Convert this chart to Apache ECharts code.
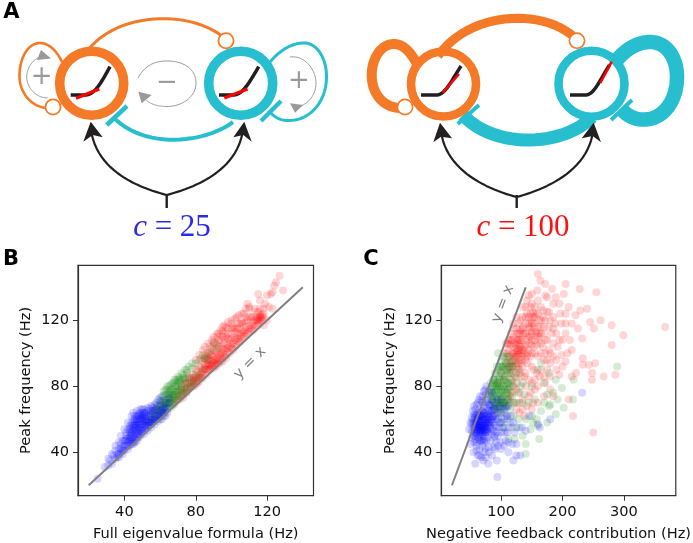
<!DOCTYPE html>
<html><head><meta charset="utf-8">
<style>html,body{margin:0;padding:0;background:#fff}#c{width:693px;height:543px}</style>
<script src="https://cdn.jsdelivr.net/npm/echarts@6/dist/echarts.min.js"></script>
</head><body><div id="c"></div>
<script>
const ticksB=[40,80,120];
const ticksCx=[100,200,300];
const ticksY=[40,80,120];
const identityLine=[[20,20],[140,140]];

const bBlue=[[25,24],[29,31],[31,32],[32,35],[33,33],[34,38],[35,36],[35,41],[36,39],[37,37],[37,42],[38,40],[38,45],[39,43],[39,39],[40,41],[40,47],[41,44],[41,50],[42,42],[42,46],[43,49],[43,52],[43,44],[44,47],[44,54],[45,45],[45,50],[45,57],[46,48],[46,53],[46,59],[47,47],[47,51],[47,56],[48,49],[48,54],[48,60],[49,50],[49,57],[49,62],[50,52],[50,55],[50,59],[50,64],[51,51],[51,57],[51,61],[52,54],[52,60],[52,64],[53,53],[53,58],[53,62],[54,56],[54,60],[55,55],[55,58],[55,63],[56,60],[56,65],[57,57],[57,62],[58,60],[58,66],[59,59],[59,64],[60,62],[60,68],[61,60],[61,66],[62,64],[63,70],[63,62],[64,67],[65,73],[44,51],[46,56],[48,57],[49,53],[47,53],[45,48],[42,48],[40,44],[44,49],[50,57],[52,58],[54,63],[51,54],[53,56],[47,58],[48,62],[49,60],[50,61],[46,51],[45,53],[44,45],[43,47],[41,47],[39,41],[38,42],[37,39],[36,37],[42,44],[46,46],[48,52],[49,55],[51,59],[52,56],[54,58],[55,60],[56,58],[57,60],[50,53],[48,51],[47,49],[45,46],[44,52],[43,50],[46,55],[47,60],[48,55],[50,62],[51,63],[52,62],[38,50],[40,54],[42,58],[44,62],[45,64],[47,65],[49,66],[51,66],[53,67],[55,68],[57,69],[59,72],[61,74],[60,71],[58,70],[56,67],[54,66],[50,66],[48,63],[46,62],[43,56],[41,52],[39,47],[37,46],[42,54],[44,58],[46,60],[44,56],[45,60],[47,62],[49,64],[51,64],[53,65],[55,65],[48,58],[50,60],[52,59],[46,57],[45,55],[43,54],[41,48],[35,44],[33,39],[31,36],[58,62],[60,65],[62,67],[63,66],[64,64],[65,70],[59,61],[61,64],[62,62],[57,65]];
const bGreen=[[52,56],[54,62],[55,58],[56,64],[57,60],[58,66],[59,62],[60,69],[60,63],[61,66],[62,71],[62,64],[63,68],[63,75],[64,66],[64,72],[65,70],[65,77],[66,67],[66,74],[67,71],[67,78],[68,69],[68,75],[68,80],[69,72],[69,77],[70,74],[70,80],[71,72],[71,83],[72,76],[72,79],[73,75],[73,85],[74,78],[74,82],[75,77],[75,88],[76,80],[76,85],[77,79],[78,83],[78,91],[79,82],[80,87],[80,94],[82,86],[84,90],[85,97],[87,96],[88,101],[90,106],[92,103],[66,72],[64,75],[62,69],[70,77],[68,73],[66,70],[65,73],[67,75],[69,80],[63,72],[61,69],[60,66],[64,69],[68,77],[70,82],[72,84],[62,74],[64,78],[66,81],[68,84],[70,86],[72,88],[74,90],[76,92],[78,94],[62,77],[65,80],[67,82],[69,84],[71,85],[73,87],[75,90],[60,73],[58,68],[57,66],[64,80],[66,78],[68,82],[70,84],[63,78],[65,75],[67,73],[69,75],[71,78],[72,81],[74,85],[82,96],[84,99],[54,58],[56,59],[58,62],[59,65],[60,60],[61,63],[62,67],[63,65],[64,70],[65,68],[66,76],[67,69],[55,61],[57,63],[59,68],[61,71],[63,70]];
const bRed=[[68,70],[70,72],[72,74],[72,78],[74,76],[74,81],[75,79],[76,78],[77,84],[78,80],[78,87],[79,83],[80,81],[80,86],[81,89],[82,83],[82,87],[83,91],[84,85],[84,89],[85,93],[85,97],[86,87],[86,90],[87,94],[87,100],[88,90],[88,96],[89,92],[89,103],[90,91],[90,98],[90,107],[91,94],[91,101],[92,93],[92,97],[92,110],[93,96],[93,104],[94,95],[94,99],[94,108],[95,97],[95,103],[95,113],[96,98],[96,106],[97,99],[97,110],[98,101],[98,105],[98,115],[99,100],[99,108],[100,103],[100,112],[100,118],[101,102],[101,106],[102,104],[102,110],[103,105],[103,115],[103,122],[104,107],[104,112],[105,107],[105,118],[106,109],[106,114],[107,110],[107,124],[108,111],[108,116],[109,112],[109,120],[110,113],[110,117],[110,128],[111,115],[111,122],[112,114],[112,119],[113,116],[113,120],[113,127],[114,117],[114,122],[115,118],[115,121],[115,125],[116,119],[116,122],[116,132],[117,120],[117,122],[118,124],[118,117],[119,130],[120,135],[120,120],[121,128],[122,136],[123,127],[124,141],[125,143],[127,147],[129,138],[123,137],[109,130],[115,136],[110,127],[116,121],[115,120],[117,123],[116,123],[114,120],[112,117],[118,122],[88,93],[89,95],[90,94],[91,96],[92,95],[90,96],[94,100],[96,102],[98,103],[100,106],[102,108],[104,109],[99,104],[97,103],[95,100],[93,99],[92,100],[88,91],[87,92],[86,93],[84,87],[82,85],[80,84],[78,82],[76,82],[75,76],[103,109],[105,111],[107,113],[106,119],[108,122],[101,116],[97,116],[95,116],[93,112],[80,96],[82,99],[84,102],[85,104],[87,106],[89,108],[90,110],[92,112],[94,114],[96,117],[98,119],[100,120],[102,121],[104,123],[106,124],[108,127],[83,97],[86,100],[88,104],[91,106],[93,108],[95,110],[96,112],[98,112],[100,115],[102,115],[104,118],[106,118],[108,119],[110,122],[86,96],[88,99],[90,102],[92,105],[94,104],[96,108],[98,109],[100,109],[102,113],[104,115],[106,112],[108,114],[110,115],[112,122],[114,125],[116,127],[118,127],[85,91],[87,90],[89,93],[91,92],[93,94],[95,95],[97,97],[70,76],[72,80],[74,84],[76,86],[78,85],[80,90],[82,92],[84,95],[86,98],[73,77],[75,82],[77,80],[79,85],[81,85],[83,88],[85,90],[87,97],[89,99],[71,74],[69,71],[73,73],[79,80],[81,82],[83,85]];

const cBlue=[[94,25],[58,33],[71,35],[79,33],[93,35],[120,35],[125,38],[131,38],[62,38],[68,37],[73,40],[85,38],[100,42],[112,40],[125,45],[118,45],[112,46],[107,47],[55,40],[60,41],[65,42],[75,42],[80,43],[88,43],[92,46],[99,46],[65,47],[70,47],[76,47],[83,47],[89,49],[95,50],[101,52],[50,45],[52,49],[56,46],[60,46],[110,52],[122,52],[125,55],[134,55],[140,53],[146,62],[160,57],[163,55],[180,60],[232,76],[48,54],[52,53],[55,52],[56,55],[57,50],[58,53],[59,57],[60,51],[60,55],[61,59],[62,53],[62,56],[63,49],[63,60],[64,53],[64,56],[65,58],[65,51],[66,54],[66,61],[67,56],[67,50],[68,53],[68,59],[69,55],[69,62],[70,52],[70,57],[71,54],[71,60],[72,56],[72,50],[73,53],[73,62],[74,58],[74,55],[75,52],[75,64],[76,57],[76,60],[77,54],[77,67],[78,60],[78,56],[79,63],[80,58],[80,52],[81,65],[82,62],[82,55],[83,69],[84,60],[85,65],[85,54],[86,71],[87,62],[88,58],[89,67],[90,62],[90,50],[92,55],[93,72],[95,60],[95,67],[98,58],[100,64],[100,72],[103,55],[105,60],[108,67],[110,62],[115,58],[55,60],[56,63],[58,62],[60,60],[60,63],[62,64],[62,61],[65,62],[65,66],[68,65],[70,65],[70,70],[72,68],[75,70],[75,75],[78,72],[80,69],[80,77],[85,76],[68,56],[66,52],[64,59],[63,55],[67,53],[70,55],[72,53],[74,52],[61,54],[59,52],[57,54],[69,51],[71,58],[73,56],[76,54],[78,53],[80,61],[82,58],[58,58],[57,61],[65,55],[66,57],[68,62],[71,63],[50,58],[52,61],[54,65],[56,68],[58,66],[60,69],[62,70],[64,72],[66,74],[68,71],[70,74],[72,77],[74,78],[76,80],[60,44],[65,38],[70,44],[75,37],[80,40],[90,42],[95,44],[105,44],[72,46],[78,49],[84,51],[88,53],[93,52],[97,55],[102,58],[106,52],[112,55],[116,62],[120,58],[85,58],[90,56],[94,64],[98,68],[104,66],[108,62],[112,68],[86,62],[78,65],[82,68],[74,60],[72,64],[88,66],[92,60],[64,48],[68,47],[72,48],[55,50],[58,48],[52,57],[54,58],[56,57],[60,57],[62,58],[64,62],[66,63],[70,60],[73,60],[75,58],[77,62],[79,58],[81,56],[83,63],[85,60]];
const cGreen=[[289,92],[217,72],[202,67],[189,63],[180,69],[140,45],[140,39],[162,48],[218,84],[189,84],[199,79],[178,68],[175,58],[160,56],[158,60],[150,62],[140,60],[128,60],[122,48],[112,48],[118,55],[105,55],[170,82],[178,88],[165,94],[160,90],[150,80],[155,72],[145,70],[138,75],[132,80],[125,70],[120,62],[110,60],[100,58],[85,80],[82,76],[80,72],[85,72],[88,76],[90,80],[90,70],[92,66],[95,62],[95,72],[95,78],[95,84],[96,90],[97,68],[98,74],[100,66],[100,72],[100,78],[100,82],[100,88],[102,92],[102,98],[103,70],[105,64],[105,74],[105,80],[106,86],[107,90],[108,68],[108,76],[110,72],[110,82],[110,88],[112,78],[112,92],[115,66],[115,84],[115,94],[118,74],[118,88],[120,80],[120,96],[122,70],[125,85],[125,92],[128,76],[130,88],[135,82],[135,70],[88,70],[92,74],[93,80],[98,80],[103,76],[88,84],[92,88],[97,86],[103,86],[108,84],[113,88],[115,76],[110,94],[105,92],[100,95],[95,100],[88,74],[86,68],[93,70],[90,76],[83,74],[96,76],[99,70],[102,74],[106,70],[104,68],[85,76],[87,80],[88,82],[90,84],[92,78],[94,82],[96,80],[98,84],[100,76],[102,80],[104,84],[106,78],[108,80],[110,76],[112,82],[114,80],[116,82],[92,68],[94,72],[96,70],[98,64],[100,70],[102,68],[105,70],[108,72],[110,68],[112,72],[114,70],[90,66],[88,66],[86,72],[84,78],[83,82],[87,84],[90,88],[93,92],[97,92],[100,92],[103,90],[107,94],[110,98],[112,98],[105,98],[115,90],[118,92],[130,55],[135,50],[148,54],[152,58],[165,65],[170,70],[175,75],[185,76],[192,72]];
const cRed=[[367,116],[299,111],[280,117],[280,105],[262,120],[245,119],[251,115],[232,109],[267,86],[286,87],[248,84],[248,88],[253,94],[243,93],[233,93],[233,97],[250,52],[217,62],[160,148],[164,144],[205,142],[228,139],[255,137],[172,142],[159,138],[183,139],[202,136],[189,134],[172,135],[240,127],[229,126],[221,123],[205,124],[196,124],[185,122],[180,120],[215,118],[225,115],[205,112],[195,108],[185,106],[215,102],[208,100],[198,99],[190,96],[180,94],[222,88],[215,86],[195,87],[180,78],[170,74],[185,74],[210,72],[160,70],[150,66],[130,64],[150,130],[145,135],[140,128],[155,128],[165,128],[175,125],[135,122],[140,118],[145,122],[150,118],[155,122],[160,116],[165,120],[170,116],[140,112],[145,110],[150,113],[155,108],[160,110],[165,106],[170,112],[175,108],[120,110],[125,108],[130,112],[135,108],[140,105],[145,102],[150,105],[155,100],[160,98],[165,100],[170,96],[115,105],[118,100],[120,104],[123,100],[125,103],[128,106],[130,100],[133,104],[135,98],[138,100],[140,96],[143,94],[148,98],[150,92],[153,90],[158,88],[163,86],[108,106],[112,102],[115,98],[118,95],[120,92],[123,96],[125,88],[128,94],[130,90],[133,86],[135,92],[138,86],[140,88],[145,84],[150,82],[155,78],[160,80],[170,86],[105,100],[108,94],[110,90],[115,88],[118,84],[120,80],[125,78],[130,76],[135,72],[140,80],[145,74],[120,70],[125,66],[115,74],[100,88],[95,82],[150,112],[147,115],[153,116],[157,113],[142,108],[126,101],[128,99],[130,104],[132,102],[124,105],[122,98],[134,96],[150,120],[154,118],[148,124],[146,116],[158,105],[162,112],[143,100],[136,102],[128,108],[118,108],[175,134],[185,130],[195,130],[210,128],[172,100],[182,112],[198,118],[212,108],[112,108],[116,112],[120,115],[125,115],[128,118],[132,120],[136,116],[138,112],[142,124],[148,128],[152,125],[156,124],[160,124],[162,120],[165,116],[168,122],[172,120],[178,116],[130,96],[132,94],[128,90],[126,82],[122,86],[118,92],[114,92],[112,96],[110,100],[112,106],[116,108],[120,100],[124,94],[128,102],[132,108],[136,112],[130,108],[126,112],[122,106],[134,100],[138,104],[142,98],[146,106],[150,100],[154,104],[158,112],[162,108],[150,108],[148,110],[152,122],[145,118],[140,122],[135,115],[128,112],[132,114],[120,118],[110,106],[125,98],[118,76],[110,78],[105,84],[112,72],[135,66],[142,68],[148,76],[155,84],[165,90],[175,90],[180,86],[172,82],[130,70],[138,62],[152,70],[165,112],[172,108],[178,102],[185,115],[190,112],[200,108],[192,104],[178,125],[188,118],[205,118],[168,126],[160,132],[150,136],[142,132],[135,128],[125,122],[185,98],[175,96],[168,104],[200,92],[190,90],[205,95],[180,100]];

const ALPHA=0.16;
function scatter(data,color,xi,z){return {type:'scatter',xAxisIndex:xi,yAxisIndex:xi,data:data,symbolSize:8,z:z,silent:true,animation:false,
  itemStyle:{color:color,opacity:ALPHA,borderWidth:0}};}
function lineS(xi){return {type:'line',xAxisIndex:xi,yAxisIndex:xi,data:identityLine,symbol:'none',z:5,silent:true,animation:false,lineStyle:{color:'#808080',width:2}};}
const FF='"DejaVu Sans"';
const AXC='#333',TXT='#111',FS=14.6;
function xA(gi,min,max,ticks,name){return {type:'value',gridIndex:gi,min:min,max:max,position:'bottom',name:name,nameLocation:'middle',nameGap:31,
  nameTextStyle:{fontFamily:FF,fontSize:FS,color:TXT},splitLine:{show:false},
  axisLine:{show:true,onZero:false,lineStyle:{color:AXC,width:1.2}},
  axisTick:{show:true,length:5,lineStyle:{color:AXC},customValues:ticks},
  axisLabel:{fontFamily:FF,fontSize:FS,color:TXT,margin:9,customValues:ticks,formatter:v=>String(v)}};}
function yA(gi,min,max,ticks,name){return {type:'value',gridIndex:gi,min:min,max:max,position:'left',name:name,nameLocation:'middle',nameGap:44,
  nameTextStyle:{fontFamily:FF,fontSize:FS,color:TXT},splitLine:{show:false},
  axisLine:{show:true,onZero:false,lineStyle:{color:AXC,width:1.2}},
  axisTick:{show:true,length:5,lineStyle:{color:AXC},customValues:ticks},
  axisLabel:{fontFamily:FF,fontSize:FS,color:TXT,margin:9,customValues:ticks,formatter:v=>String(v)}};}

const OR='#f47a28',TE='#27bfcf',BK='#231f20',GR='#9a9a9a';
function pts(d){
  const toks=d.match(/[MLC]|-?[\d.]+/g);let i=0,cur=[0,0],out=[],cmd='';
  const n=()=>parseFloat(toks[i++]);
  while(i<toks.length){
    if(/[MLC]/.test(toks[i]))cmd=toks[i++];
    if(cmd==='M'||cmd==='L'){cur=[n(),n()];out.push(cur);}
    else{const a=[n(),n()],b=[n(),n()],c=[n(),n()];
      for(let s=1;s<=24;s++){const t=s/24,u=1-t;
        out.push([u*u*u*cur[0]+3*u*u*t*a[0]+3*u*t*t*b[0]+t*t*t*c[0],u*u*u*cur[1]+3*u*u*t*a[1]+3*u*t*t*b[1]+t*t*t*c[1]]);}
      cur=c;}
  }
  return out;
}
function P(d,stroke,w){return {type:'polyline',silent:true,shape:{points:pts(d)},style:{fill:'none',stroke:stroke,lineWidth:w,lineCap:'butt',lineJoin:'round'}};}
function F(d,fill){return {type:'polygon',silent:true,shape:{points:pts(d.replace(/Z/,''))},style:{fill:fill,stroke:'none'}};}
function C(x,y,r,stroke,w,fill){return {type:'circle',silent:true,shape:{cx:x,cy:y,r:r},style:{fill:fill||'none',stroke:stroke,lineWidth:w}};}
function L(x1,y1,x2,y2,stroke,w){return {type:'line',silent:true,shape:{x1,y1,x2,y2},style:{stroke:stroke,lineWidth:w}};}
function T(x,y,text,size,color,opt){return {type:'text',silent:true,x:x,y:y,rotation:(opt&&opt.rot||0)*Math.PI/180,
  style:Object.assign({text:text,fontFamily:FF,fontSize:size,fill:color,align:'center',verticalAlign:'middle'},opt&&opt.style||{})};}
function eq(x,y,label,color){return {type:'text',silent:true,x:x,y:y,style:{text:'{c|c}{n| = '+label+'}',align:'center',verticalAlign:'middle',
  rich:{c:{fontFamily:'"Liberation Serif"',fontStyle:'italic',fontSize:31,fill:color,color:color},n:{fontFamily:'"Liberation Serif"',fontSize:31,fill:color,color:color}}}};}

const graphics=[
 // panel A left
 P('M88,50 C118,12 188,10 222,36',OR,3),
 P('M62,62 C55,47 46,43 40,43 C27,43 19,60 19.5,77 C20,95 34,109 50,108',OR,2.6),
 P('M233,122 C205,143 145,150 113,117',TE,4),
 L(106.7,125,127,106,TE,4.5),
 P('M270,62 C280,50 292,43 304,43 C318,43 327,60 326.5,78 C326,102 310,120 290,120.5 C282,121 275,118 270,112',TE,3),
 L(261,121,281,101,TE,4.5),
 C(91.7,83.3,32,OR,9.6), C(240.7,83.3,32,TE,9.6),
 C(226,40.7,7.6,OR,1.8,'#fff'), C(53,107,7.6,OR,1.8,'#fff'),
 P('M70.7,95 L85,95 C94,95 100,85 110,66.7',BK,3.5),
 L(76,98.3,99.3,89,'#ff0000',3.2),
 P('M219,95 L233,95 C242,95 248,85 258.7,66.7',BK,3.5),
 L(224.3,98,247.6,89,'#ff0000',3.2),
 P('M47.7,98 C36,98 27,88 26.7,77 C27,68 32,60 40,57',GR,1),
 F('M37,60 L51,58.5 L41,50 Z',GR),
 P('M138,78 C145,65 155,61 167,61 C185,61 196,70 196,83 C196,97 182,106.5 167,106.5 C158,106.5 150,104 146,100',GR,1),
 F('M138.3,91.7 L151.7,95 L141.7,103.3 Z',GR),
 P('M290,57 C305,55 316,70 316,83 C316,95 308,105 297,107',GR,1),
 F('M290,103.3 L303.3,105 L295,112.7 Z',GR),
 T(41.7,77,'+',26,GR), T(167,83,'\u2212',26,GR), T(299,81.5,'+',26,GR),
 P('M166.7,195 C140,188 97,172 91,130',BK,2.2),
 P('M166.7,195 C193,188 237,172 243,130',BK,2.2),
 L(166.7,194,166.7,208,BK,2.4),
 F('M90.7,121.7 L83.3,141.7 L92.7,135 L102.7,137.3 Z',BK),
 F('M244.3,121.7 L233.3,137.3 L243.3,135 L251.7,141.7 Z',BK),
 eq(172,228,'25','#2a2aee'),
 // panel A right
 P('M438,56 C469,12 540,8 573,36',OR,9),
 P('M418,66 C410,50 402,44 394,44 C380,44 371.5,60 371.7,76 C372,93 383,109 403,108',OR,10),
 P('M592,117 C565,146 495,150 463,115',TE,13),
 L(457.7,124,479,105,TE,4),
 P('M617,60 C625,50 637,42 650,42 C667,42 677,58 677,77 C677,100 664,119 645,119.5 C635,120 628,116 622,110',TE,14.5),
 L(611,120,632,100,TE,4),
 C(443.5,84,32.5,OR,8.6), C(591.5,83.7,33,TE,8.6),
 C(577,40.7,7.6,OR,1.6,'#fff'), C(405,107,7.6,OR,1.6,'#fff'),
 P('M421,95 L436,95 C445,95 450,83 461,66',BK,3.5),
 L(442.7,92.7,459,74,'#ff0000',2.6),
 P('M570,95 L585,95 C594,95 598,83 609.5,65',BK,3.5),
 L(600.3,83,611.7,61.7,'#ff0000',2.6),
 P('M516.7,197 C490,190 446,172 441,131',BK,2.2),
 P('M516.7,197 C543,190 588,172 593,131',BK,2.2),
 L(516.7,195,516.7,208,BK,2.4),
 F('M440,122.7 L433.3,142.3 L441,136.7 L452,138.3 Z',BK),
 F('M593.7,122.7 L581.7,138.3 L592.7,136 L601,142.3 Z',BK),
 eq(523,228,'100','#ff1010'),
 // panel letters
 T(11.5,13,'A',21,'#000',{style:{fontWeight:'bold'}}),
 T(11,259.5,'B',21,'#000',{style:{fontWeight:'bold'}}),
 T(371,259.5,'C',21,'#000',{style:{fontWeight:'bold'}}),
 T(250,363,'y = x',14.6,'#808080',{rot:45}),
 T(503,304,'y = x',14.6,'#808080',{rot:69})
];

const chart=echarts.init(document.getElementById('c'),null,{renderer:'canvas'});
chart.setOption({
 animation:false,backgroundColor:'#fff',
 grid:[
  {left:78,top:265.3,width:235.5,height:230.4,show:true,borderColor:AXC,borderWidth:1.2,backgroundColor:'transparent'},
  {left:441.3,top:265.3,width:235.7,height:230.4,show:true,borderColor:AXC,borderWidth:1.2,backgroundColor:'transparent'}],
 xAxis:[xA(0,14,146,ticksB,'Full eigenvalue formula (Hz)'),xA(1,2.65,384.4,ticksCx,'Negative feedback contribution (Hz)')],
 yAxis:[yA(0,13.65,153.35,ticksY,'Peak frequency (Hz)'),yA(1,13.65,153.35,ticksY,'Peak frequency (Hz)')],
 series:[
  scatter(bRed,'#ff0000',0,2),scatter(bGreen,'#008000',0,3),scatter(bBlue,'#0000ff',0,4),lineS(0),
  scatter(cRed,'#ff0000',1,2),scatter(cGreen,'#008000',1,3),scatter(cBlue,'#0000ff',1,4),lineS(1)
 ],
 graphic:{elements:graphics}
});
</script></body></html>
